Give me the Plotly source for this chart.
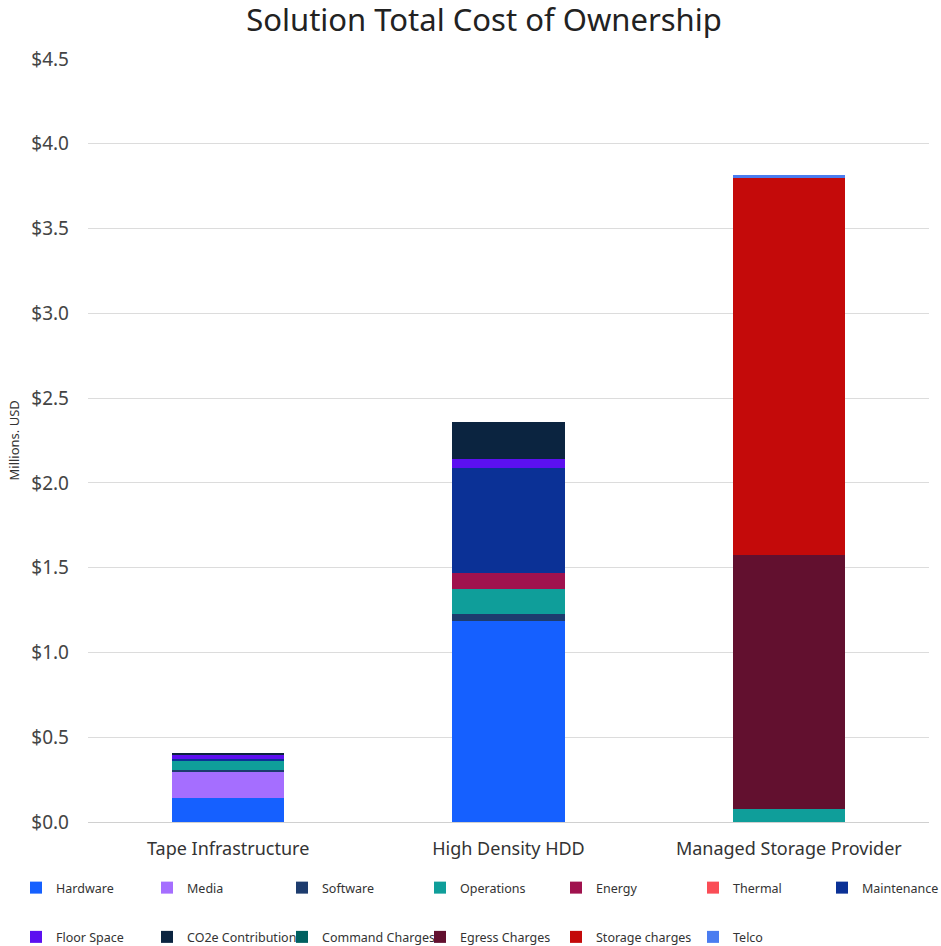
import plotly.graph_objects as go

categories = ["Tape Infrastructure", "High Density HDD", "Managed Storage Provider"]

series_names = ["Hardware", "Media", "Software", "Operations", "Energy", "Thermal",
                "Maintenance", "Floor Space", "CO2e Contribution", "Command Charges",
                "Egress Charges", "Storage charges", "Telco"]

hardware        = [0.140, 1.187, 0.0]
media           = [0.152, 0.0, 0.0]
software        = [0.014, 0.039, 0.0]
operations      = [0.055, 0.146, 0.075]
energy          = [0.004, 0.098, 0.0]
thermal         = [0.0, 0.0, 0.0]
maintenance     = [0.004, 0.620, 0.0]
floor_space     = [0.030, 0.053, 0.0]
co2e            = [0.010, 0.217, 0.0]
command_charges = [0.0, 0.0, 0.0]
egress_charges  = [0.0, 0.0, 1.500]
storage_charges = [0.0, 0.0, 2.225]
telco           = [0.0, 0.0, 0.017]

values = [hardware, media, software, operations, energy, thermal, maintenance,
          floor_space, co2e, command_charges, egress_charges, storage_charges, telco]

colors = ["#1560ff", "#a56eff", "#1d3c6e", "#0f9e9a", "#a0124e", "#fa4d56",
          "#0b3196", "#5c10f0", "#0b2440", "#006060", "#62102f", "#c40a0a", "#4a7cf0"]

tick_vals = [0, 0.5, 1.0, 1.5, 2.0, 2.5, 3.0, 3.5, 4.0, 4.5]
tick_text = ["$0.0", "$0.5", "$1.0", "$1.5", "$2.0", "$2.5", "$3.0", "$3.5", "$4.0", "$4.5"]

y_title = "Millions. USD"
chart_title = "Solution Total Cost of Ownership"

FONT = "Noto Sans"
W, H = 941, 946

# legend column left edges (pixels) – 7 columns, 2 rows
legend_cols_px = [16, 147, 282, 420, 556, 693, 822]

fig = go.Figure()
for i, (name, vals, col) in enumerate(zip(series_names, values, colors)):
    column = i % 7
    lg = "legend" if column == 0 else f"legend{column + 1}"
    fig.add_trace(go.Bar(
        x=categories, y=vals, name=name,
        marker=dict(color=col, line=dict(width=0)),
        legend=lg, legendgroup=name,
    ))

legend_common = dict(
    orientation="v", xref="container", yref="container", xanchor="left", yanchor="top",
    itemwidth=30, traceorder="grouped", tracegroupgap=30,
    font=dict(family=FONT, size=12.5, color="#333333"),
    bgcolor="rgba(0,0,0,0)", borderwidth=0,
    y=1 - 873 / H,
)

legends = {}
for c, px in enumerate(legend_cols_px):
    key = "legend" if c == 0 else f"legend{c + 1}"
    legends[key] = dict(legend_common, x=px / W)

fig.update_layout(
    width=W, height=H,
    barmode="stack", bargap=0.6,
    plot_bgcolor="white", paper_bgcolor="white",
    margin=dict(l=88, r=12, t=59, b=124, autoexpand=False),
    font=dict(family=FONT, color="#333333"),
    title=dict(text=chart_title, x=484 / W, xanchor="center",
               xref="container", y=1 - 20 / H, yanchor="middle", yref="container",
               font=dict(family=FONT, size=31, color="#222222")),
    xaxis=dict(showgrid=False, showline=True, linecolor="#d0d0d0", linewidth=1,
               automargin=False, ticklabelstandoff=10,
               tickfont=dict(family=FONT, size=18, color="#333333"), ticks=""),
    yaxis=dict(range=[0, 4.5], tickvals=tick_vals, ticktext=tick_text,
               showgrid=True, gridcolor="#dcdcdc", gridwidth=1, zeroline=False,
               showline=False, ticks="", ticklabelstandoff=18, automargin=False,
               tickfont=dict(family=FONT, size=19, color="#444444")),
    annotations=[dict(text=y_title, textangle=-90, xref="paper", yref="paper",
                      x=-75 / 841, y=0.5, xanchor="center", yanchor="middle",
                      showarrow=False,
                      font=dict(family=FONT, size=13, color="#333333"))],
    **legends,
)

fig.write_html("out.html", config={"displayModeBar": False},
               post_script="document.body.style.margin='0px';")
